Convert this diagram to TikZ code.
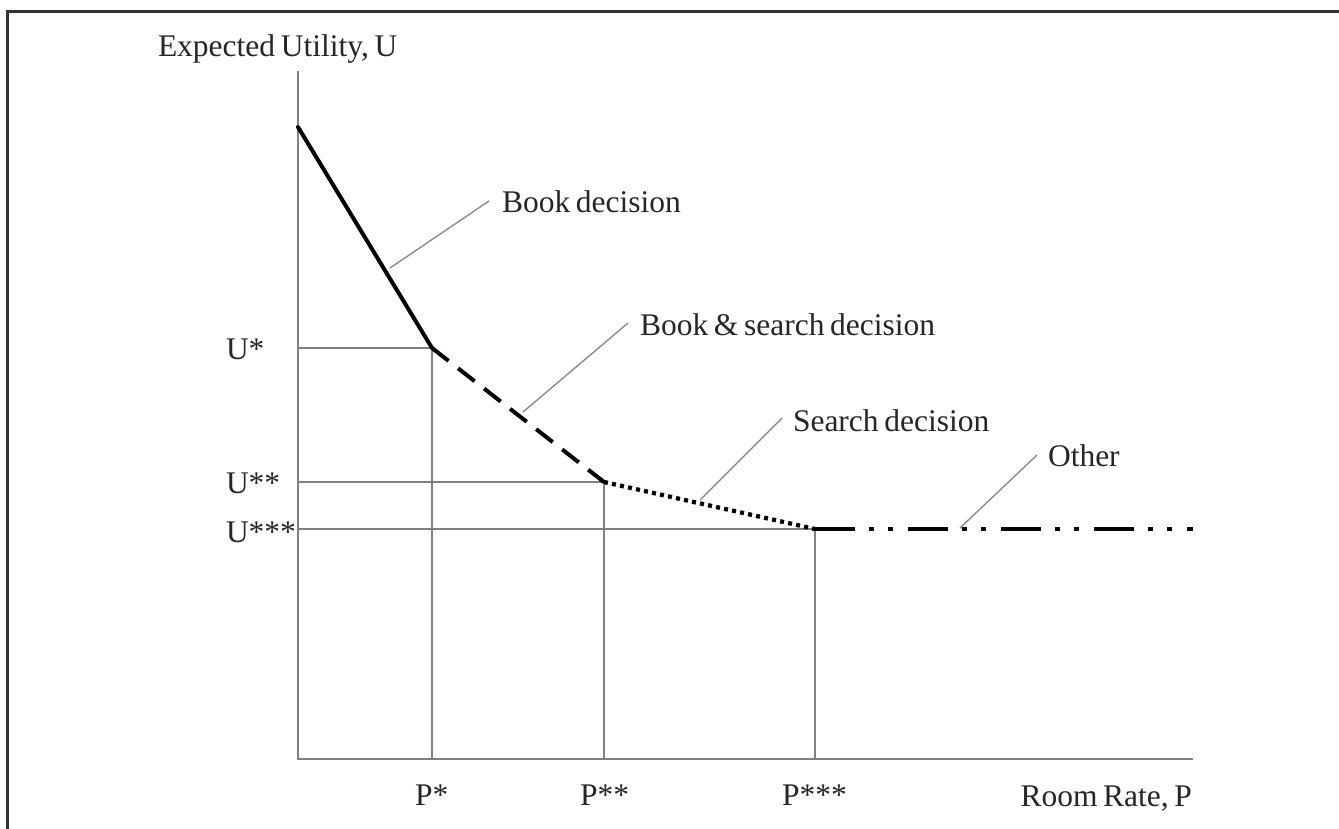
\documentclass[tikz,border=0pt]{standalone}
\usepackage{fontspec}
\setmainfont{Liberation Serif}
\newcommand{\lblfont}{\fontsize{31.5}{36}\selectfont\spaceskip=0.18em plus 0.05em\relax}
\begin{document}
\begin{tikzpicture}[x=1pt,y=-1pt,
  frameline/.style={draw=black!80, line width=3pt},
  guide/.style={draw=black!50, line width=1.8pt},
  leader/.style={draw=black!45, line width=1.4pt},
  solidseg/.style={draw=black, line width=4pt, line cap=round, line join=round},
  dashseg/.style={draw=black, line width=4pt, dash pattern=on 21pt off 12pt},
  dotseg/.style={draw=black, line width=4.3pt, dash pattern=on 4pt off 4.2pt},
  otherseg/.style={draw=black, line width=4pt, dash pattern=on 40pt off 14pt on 5pt off 14pt on 5pt off 15pt},
  lbl/.style={inner sep=0pt, outer sep=0pt, font=\lblfont, text=black!85}
]
\useasboundingbox (0,0) rectangle (1339,829);
\fill[white] (0,0) rectangle (1339,829);
% frame
\draw[frameline] (7,829) -- (7,11.5) -- (1339,11.5);

% key points
\coordinate (O) at (298,759);
\coordinate (Ytop) at (298,71);
\coordinate (Xend) at (1193,759);
\coordinate (A) at (298,127);
\coordinate (B) at (432,348);
\coordinate (C) at (604,482);
\coordinate (D) at (815,529);
\coordinate (E) at (1193,529);
\coordinate (Bu) at (298,348);
\coordinate (Cu) at (298,482);
\coordinate (Du) at (298,529);
\coordinate (Bp) at (432,759);
\coordinate (Cp) at (604,759);
\coordinate (Dp) at (815,759);

% guides and axes
\draw[guide] (Ytop) -- (O) -- (Xend);
\draw[guide] (Bu) -- (B) -- (Bp);
\draw[guide] (Cu) -- (C) -- (Cp);
\draw[guide] (Du) -- (D) -- (Dp);

% curve
\draw[solidseg] (A) -- (B);
\draw[dashseg] (B) -- (C);
\draw[dotseg] (C) -- (D);
\draw[otherseg] (D) -- (E);

% labels
\node[lbl, anchor=base west] (ylab) at (158,57) {Expected Utility, U};
\node[lbl, anchor=base east] (xlab) at (1192,806) {Room Rate, P};
\node[lbl, anchor=base west] (u1) at (226,359) {U*};
\node[lbl, anchor=base west] (u2) at (226,493) {U**};
\node[lbl, anchor=base west] (u3) at (226,542) {U***};
\node[lbl, anchor=base west] (p1) at (415,805) {P*};
\node[lbl, anchor=base west] (p2) at (580,805) {P**};
\node[lbl, anchor=base west] (p3) at (782,805) {P***};
\node[lbl, anchor=base west] (bookdec) at (502,213) {Book decision};
\node[lbl, anchor=base west] (bsdec) at (640,335) {Book \& search decision};
\node[lbl, anchor=base west] (sdec) at (793,431) {Search decision};
\node[lbl, anchor=base west] (oth) at (1048,466) {Other};

% leaders
\coordinate (l1a) at (390,268); \coordinate (l1b) at (489,201);
\coordinate (l2a) at (523,412); \coordinate (l2b) at (628,323);
\coordinate (l3a) at (700,500); \coordinate (l3b) at (782,418);
\coordinate (l4a) at (960,528); \coordinate (l4b) at (1037,455);
\draw[leader] (l1a) -- (l1b);
\draw[leader] (l2a) -- (l2b);
\draw[leader] (l3a) -- (l3b);
\draw[leader] (l4a) -- (l4b);
\end{tikzpicture}
\end{document}
